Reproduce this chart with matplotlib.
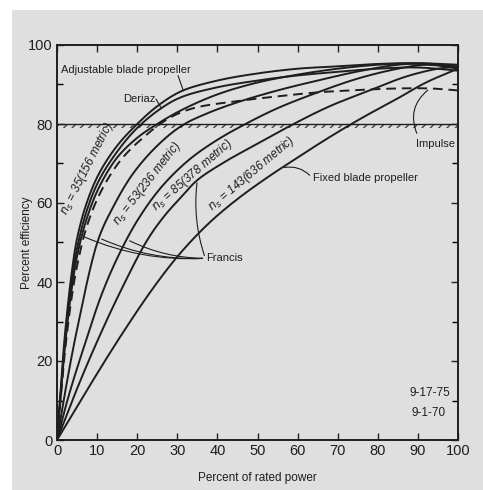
import numpy as np
import matplotlib
matplotlib.use("Agg")
import matplotlib.pyplot as plt
from matplotlib.patches import Rectangle

plt.rcParams['font.family'] = ['Liberation Sans Narrow', 'Liberation Sans', 'DejaVu Sans']

# ---- data (percent of rated power, percent efficiency) ----
adj_x = [0, 1, 2, 3.5, 5, 7.4, 10.5, 15, 20, 25, 31, 40, 50, 60, 70, 80, 90, 100]
adj_y = [0, 14, 27, 41, 51, 60, 67.5, 74.5, 80, 84.5, 88.3, 91, 92.8, 94, 94.6, 95.2, 95.4, 95]

der_x = [0, 1, 2, 3.5, 5, 7.4, 10.5, 15, 20, 26, 31, 40, 50, 60, 70, 80, 90, 100]
der_y = [0, 13, 25, 39, 48.5, 58, 65.8, 73, 79, 84, 86.8, 89.3, 91, 92.3, 93.2, 94, 94.3, 93.5]

imp_x = [0, 1, 2, 3.5, 5, 7.4, 11, 16, 22, 28, 34, 45, 55, 65, 75, 85, 93, 100]
imp_y = [0, 11.5, 22.5, 35, 44, 54, 63, 71, 77, 81.5, 84, 85.8, 87, 88, 88.6, 89, 89, 88.5]

ns35_x = [0, 1, 2, 3.5, 5, 7.4, 10.5, 15, 20, 25, 31, 40, 50, 60, 70, 80, 88, 95, 100]
ns35_y = [0, 12, 24, 37, 46.5, 56, 64, 71.5, 76.5, 80, 83.5, 87.5, 90.5, 92.5, 94, 95, 95.3, 94.8, 94]

ns53_x = [0, 2, 5, 10.25, 14, 19, 25, 31, 37, 45, 55, 65, 75, 85, 92, 100]
ns53_y = [0, 12, 28, 50.6, 59, 67.5, 74.5, 79.5, 82.5, 85.5, 88.5, 91, 93.3, 95, 95.3, 94.5]

ns85_x = [0, 3, 7.5, 11, 15, 20, 26, 33, 40, 47, 55, 65, 75, 85, 92, 100]
ns85_y = [0, 11.5, 26, 36.5, 46, 55.5, 64, 71, 76, 80, 84, 88, 91.5, 94, 95, 94.5]

ns143_x = [0, 5, 10.25, 16, 22.5, 27, 31, 35, 42, 50, 59, 68, 78, 87, 95, 100]
ns143_y = [0, 13, 25.5, 38, 50.6, 57, 61.5, 65.8, 70.5, 75, 80, 84.5, 88.5, 92, 94, 94.5]

fix_x = [0, 8, 16, 24, 30.75, 38, 45, 52.5, 60, 68, 76.5, 85, 92, 100]
fix_y = [0, 13.5, 26.5, 38.5, 47.3, 55, 61, 66.5, 71.5, 76.7, 81.8, 86.5, 90.5, 94]

x_ticks = [0, 10, 20, 30, 40, 50, 60, 70, 80, 90, 100]
y_ticks = [0, 20, 40, 60, 80, 100]
limit_eff = 80

BG = '#dfdfdf'
INK = '#1e1e1e'


def smooth_path(xs, ys, n=16, alpha=0.5):
    """Centripetal Catmull-Rom path through the read points (drawing only)."""
    P = np.column_stack([xs, ys]).astype(float)
    P = np.vstack([2 * P[0] - P[1], P, 2 * P[-1] - P[-2]])
    out = []
    for i in range(1, len(P) - 2):
        p0, p1, p2, p3 = P[i - 1], P[i], P[i + 1], P[i + 2]
        t0 = 0.0
        t1 = t0 + np.linalg.norm(p1 - p0) ** alpha
        t2 = t1 + np.linalg.norm(p2 - p1) ** alpha
        t3 = t2 + np.linalg.norm(p3 - p2) ** alpha
        t = np.linspace(t1, t2, n)[:, None]
        a1 = (t1 - t) / (t1 - t0) * p0 + (t - t0) / (t1 - t0) * p1
        a2 = (t2 - t) / (t2 - t1) * p1 + (t - t1) / (t2 - t1) * p2
        a3 = (t3 - t) / (t3 - t2) * p2 + (t - t2) / (t3 - t2) * p3
        b1 = (t2 - t) / (t2 - t0) * a1 + (t - t0) / (t2 - t0) * a2
        b2 = (t3 - t) / (t3 - t1) * a2 + (t - t1) / (t3 - t1) * a3
        c = (t2 - t) / (t2 - t1) * b1 + (t - t1) / (t2 - t1) * b2
        out.append(c if i == 1 else c[1:])
    c = np.vstack(out)
    return c[:, 0], c[:, 1]


fig = plt.figure(figsize=(4.83, 4.90), dpi=100)
fig.patch.set_facecolor('white')
fig.patches.append(Rectangle((12 / 483, 0), 1, 1 - 10 / 490, transform=fig.transFigure,
                             facecolor=BG, edgecolor='none', zorder=-10))
ax = fig.add_axes([57 / 483, 50 / 490, 401 / 483, 395 / 490])
ax.set_facecolor(BG)

lw = 1.4
ax.plot(*smooth_path(adj_x, adj_y), color=INK, lw=lw)
ax.plot(*smooth_path(der_x, der_y), color=INK, lw=lw)
ax.plot(*smooth_path(imp_x, imp_y), color=INK, lw=lw, dashes=(5, 3))
for xs, ys in [(ns35_x, ns35_y), (ns53_x, ns53_y), (ns85_x, ns85_y),
               (ns143_x, ns143_y), (fix_x, fix_y)]:
    ax.plot(*smooth_path(xs, ys), color=INK, lw=lw)

# hatched 80 % line
ax.axhline(limit_eff, color=INK, lw=1.0)
ax.fill_between([0, 100], limit_eff - 1.0, limit_eff, facecolor='none',
                edgecolor='#444444', hatch='////', linewidth=0)

ax.set_xlim(0, 100)
ax.set_ylim(0, 100)
ax.set_xticks(x_ticks)
ax.set_yticks(y_ticks)
ax.set_yticks(np.arange(10, 100, 20), minor=True)
ax.tick_params(direction='in', top=True, right=True, length=5, width=1,
               labelsize=10.5, colors=INK, pad=3)
ax.tick_params(which='minor', direction='in', right=True, length=4, width=1)
for s in ax.spines.values():
    s.set_linewidth(1.4)
    s.set_color(INK)
ax.set_xlabel('Percent of rated power', fontsize=8.5, color=INK)
ax.xaxis.set_label_coords(0.5, -0.082)
ax.set_ylabel('Percent efficiency', fontsize=8.5, color=INK)
ax.yaxis.set_label_coords(-0.06, 0.5)

fs = 8
ax.text(1, 93.7, 'Adjustable blade propeller', fontsize=fs, color=INK, va='center')
ax.plot([30.2, 31.5], [92.2, np.interp(31.5, adj_x, adj_y)], color=INK, lw=0.8)
ax.text(24.5, 86.3, 'Deriaz', fontsize=fs, color=INK, va='center', ha='right')
ax.plot([24.7, 26], [86.3, np.interp(26, der_x, der_y)], color=INK, lw=0.8)
ax.text(89.5, 75, 'Impulse', fontsize=fs, color=INK, va='center')
ax.annotate('', xy=(93, np.interp(93, imp_x, imp_y)), xytext=(90, 77),
            arrowprops=dict(arrowstyle='-', color=INK, lw=0.8,
                            connectionstyle='arc3,rad=-0.4'))
ax.text(63.8, 66.3, 'Fixed blade propeller', fontsize=fs, color=INK, va='center')
ax.annotate('', xy=(56, np.interp(56, fix_x, fix_y)), xytext=(63.5, 66.5),
            arrowprops=dict(arrowstyle='-', color=INK, lw=0.8,
                            connectionstyle='arc3,rad=0.3'))
ax.text(37.3, 46, 'Francis', fontsize=fs, color=INK, va='center')
for xs, ys, x0 in [(ns35_x, ns35_y, 6.3), (ns53_x, ns53_y, 10.5),
                   (ns85_x, ns85_y, 17.5), (ns143_x, ns143_y, 35)]:
    ax.annotate('', xy=(37, 46), xytext=(x0, np.interp(x0, xs, ys)),
                arrowprops=dict(arrowstyle='-', color=INK, lw=0.8,
                                connectionstyle='arc3,rad=0.12'))

lab_fs = 8.5
ax.text(7.6, 68.8, r'$n_s$ = 35(156 metric)', fontsize=lab_fs, rotation=63,
        ha='center', va='center', color=INK, style='italic')
ax.text(22.5, 65.0, r'$n_s$ = 53(236 metric)', fontsize=lab_fs, rotation=52,
        ha='center', va='center', color=INK, style='italic')
ax.text(33.8, 67.0, r'$n_s$ = 85(378 metric)', fontsize=lab_fs, rotation=41,
        ha='center', va='center', color=INK, style='italic')
ax.text(48.5, 67.5, r'$n_s$ = 143(636 metric)', fontsize=lab_fs, rotation=40,
        ha='center', va='center', color=INK, style='italic')

ax.text(98, 11.9, '9-17-75', fontsize=8.5, ha='right', va='center', color=INK)
ax.text(97, 6.8, '9-1-70', fontsize=8.5, ha='right', va='center', color=INK)

fig.savefig('out.png', dpi=100, facecolor=fig.get_facecolor())
